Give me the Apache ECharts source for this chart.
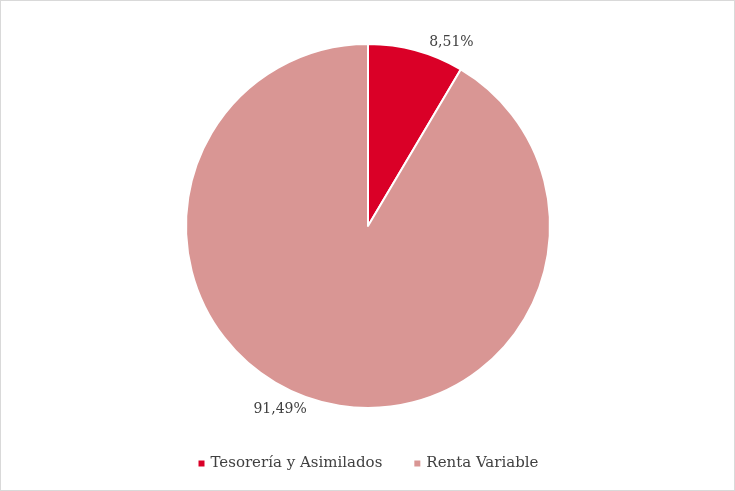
<!DOCTYPE html>
<html>
<head>
<meta charset="utf-8">
<script src="https://cdn.jsdelivr.net/npm/echarts@6/dist/echarts.min.js"></script>
<style>
html,body{margin:0;padding:0;background:#fff;}
#main{width:733px;height:489px;border:1px solid #d9d9d9;}
</style>
</head>
<body>
<div id="main"></div>
<script>
var categories = ['Tesorería y Asimilados', 'Renta Variable'];
var values = [8.51, 91.49];
var colors = ['#DA0027', '#D99694'];

var myChart = echarts.init(document.getElementById('main'));
var data = [];
for (var i = 0; i < categories.length; i++) {
    data.push({ name: categories[i], value: values[i], itemStyle: { color: colors[i] } });
}
var option = {
    animation: false,
    textStyle: { fontFamily: 'DejaVu Serif' },
    legend: {
        bottom: 14,
        left: 'center',
        icon: 'rect',
        itemWidth: 8,
        itemHeight: 8,
        itemGap: 30,
        textStyle: { fontSize: 15, color: '#404040', fontFamily: 'DejaVu Serif' },
        data: categories
    },
    series: [{
        type: 'pie',
        center: [367, 225],
        radius: 182,
        startAngle: 90,
        clockwise: true,
        itemStyle: { borderColor: '#fff', borderWidth: 2 },
        label: {
            show: true,
            position: 'outside',
            fontSize: 14,
            color: '#404040',
            formatter: function (p) { return p.value.toFixed(2).replace('.', ',') + '%'; }
        },
        labelLine: { show: false, length: 8, length2: 6 },
        data: data
    }]
};
myChart.setOption(option);
window.onresize = function () { myChart.resize(); };
</script>
</body>
</html>
